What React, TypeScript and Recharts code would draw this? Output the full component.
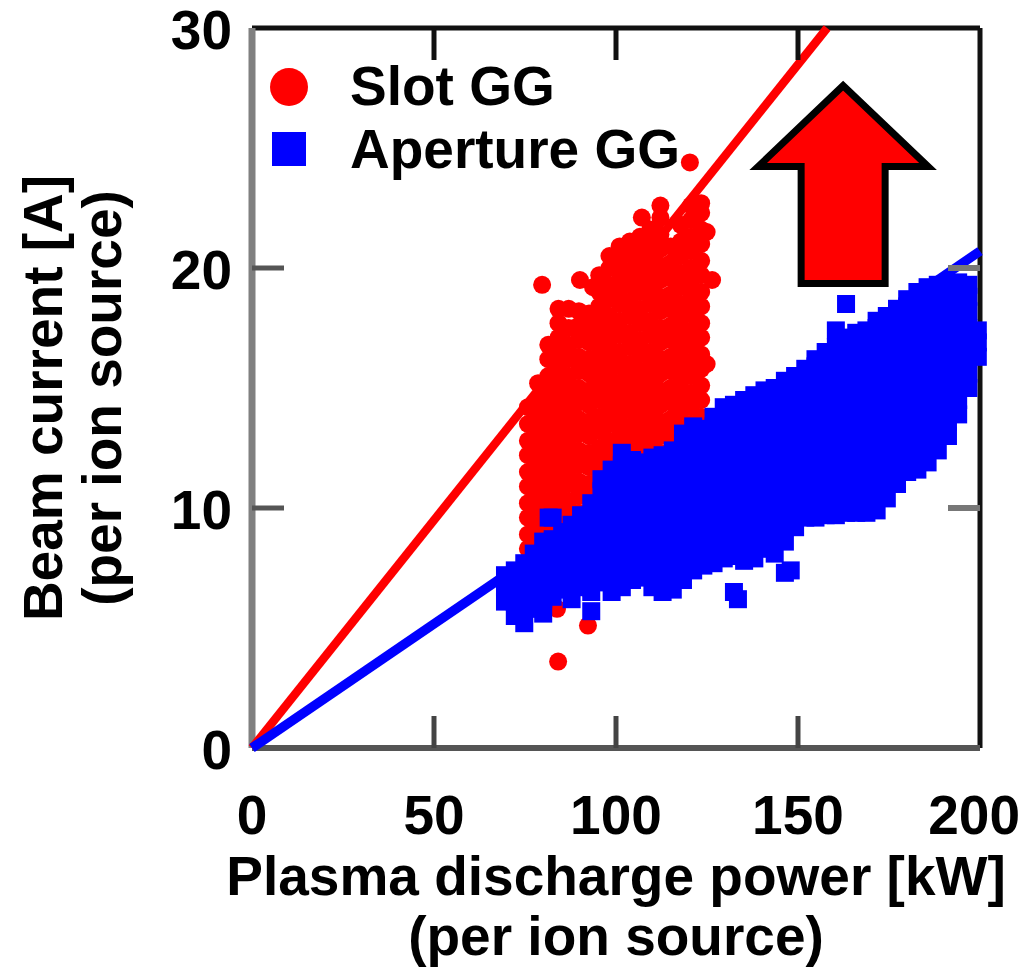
import React from 'react';
import { ScatterChart, Scatter, XAxis, YAxis, ReferenceLine } from 'recharts';

const W = 1022;
const H = 970;
const MARGIN = { top: 28, right: 42, bottom: 0, left: 0 };
const Y_AXIS_W = 252;
const X_AXIS_H = 222;
const PLOT_W = W - MARGIN.right - Y_AXIS_W;
const PLOT_H = H - MARGIN.top - X_AXIS_H;
const FONT = '"Liberation Sans", Arial, Helvetica, sans-serif';
const FS = 55;

const xTicks = [0, 50, 100, 150, 200];
const yTicks = [0, 10, 20, 30];
const xTitle = ['Plasma discharge power [kW]', '(per ion source)'];
const yTitle = ['Beam current [A]', '(per ion source)'];
const seriesNames = ['Slot GG', 'Aperture GG'];

// Slot GG: each row = [power kW, beam current A, beam current A, ...]
const slotCols: number[][] = [
  [75.8, 8.3, 8.9, 9.6, 10.2, 10.9, 11.5, 12.2, 12.8, 13.5, 14.2],
  [78.6, 8.1, 8.7, 9.3, 10.0, 10.6, 11.3, 11.9, 12.6, 13.2, 13.9, 14.5, 15.2],
  [81.4, 8.4, 9.0, 9.7, 10.3, 11.0, 11.6, 12.3, 12.9, 13.6, 14.2, 14.9, 15.5, 16.2, 16.8],
  [84.2, 8.6, 9.3, 9.9, 10.6, 11.2, 11.9, 12.5, 13.2, 13.8, 14.5, 15.1, 15.8, 16.4, 17.1, 17.7, 18.3],
  [87.0, 9.0, 9.7, 10.3, 11.0, 11.6, 12.3, 12.9, 13.6, 14.2, 14.9, 15.5, 16.2, 16.8, 17.5, 18.3],
  [89.8, 9.2, 9.8, 10.5, 11.1, 11.8, 12.4, 13.1, 13.7, 14.4, 15.0, 15.7, 16.3, 17.0, 17.6, 18.2],
  [92.6, 9.1, 9.7, 10.4, 11.0, 11.7, 12.3, 13.0, 13.6, 14.3, 14.9, 15.6, 16.2, 16.9, 17.5, 18.1],
  [95.4, 9.3, 9.9, 10.6, 11.2, 11.9, 12.5, 13.2, 13.8, 14.5, 15.1, 15.8, 16.4, 17.1, 17.7, 18.4, 19.0, 19.7],
  [98.2, 9.6, 10.2, 10.9, 11.5, 12.2, 12.8, 13.5, 14.1, 14.8, 15.4, 16.1, 16.7, 17.4, 18.0, 18.7, 19.3, 20.0, 20.5],
  [101.0, 10.0, 10.7, 11.3, 12.0, 12.6, 13.3, 13.9, 14.6, 15.2, 15.9, 16.5, 17.2, 17.8, 18.5, 19.1, 19.8, 20.4, 20.9],
  [103.8, 10.2, 10.8, 11.5, 12.1, 12.8, 13.4, 14.1, 14.7, 15.4, 16.0, 16.7, 17.3, 18.0, 18.6, 19.3, 19.9, 20.6, 21.1],
  [106.6, 10.5, 11.2, 11.8, 12.5, 13.1, 13.8, 14.4, 15.1, 15.7, 16.4, 17.0, 17.7, 18.3, 19.0, 19.6, 20.3, 20.9, 21.3],
  [109.4, 10.7, 11.3, 12.0, 12.6, 13.3, 13.9, 14.6, 15.2, 15.9, 16.5, 17.2, 17.8, 18.5, 19.1, 19.8, 20.4, 21.1, 21.6],
  [112.2, 11.0, 11.7, 12.3, 13.0, 13.6, 14.3, 14.9, 15.6, 16.2, 16.9, 17.5, 18.2, 18.8, 19.5, 20.1, 20.8, 21.4, 22.1, 22.6],
  [115.0, 11.1, 11.8, 12.4, 13.1, 13.7, 14.4, 15.0, 15.7, 16.3, 17.0, 17.6, 18.3, 18.9, 19.6, 20.2, 20.9],
  [117.8, 11.4, 12.0, 12.7, 13.3, 14.0, 14.6, 15.3, 15.9, 16.6, 17.2, 17.9, 18.5, 19.2, 19.8, 20.5, 21.1, 21.8],
  [120.6, 11.6, 12.2, 12.9, 13.5, 14.2, 14.8, 15.5, 16.1, 16.8, 17.4, 18.1, 18.7, 19.4, 20.0, 20.7, 21.3, 22.0, 22.6],
  [123.4, 11.9, 12.5, 13.2, 13.8, 14.5, 15.1, 15.8, 16.4, 17.1, 17.7, 18.4, 19.0, 19.7, 20.3, 21.0, 21.6, 22.3, 22.7],
];
const slotExtra: number[][] = [
  [120.3, 24.4], [107.1, 22.1], [79.7, 19.3], [90.1, 19.5], [93.7, 19.2], [99.2, 20.2],
  [126.4, 19.5], [124.9, 21.5], [124.9, 16.0], [83.8, 5.8], [92.3, 5.1], [84.1, 3.6],
  [92.9, 6.5], [103.0, 8.0], [112.0, 8.8], [83.2, 7.5], [77.0, 8.0],
];

// Aperture GG: each row = [power kW, beam current A, ...]
const apertureCols: number[][] = [
  [69.5, 6.1, 6.7, 7.2],
  [72.2, 5.5, 6.1, 6.8, 7.4],
  [74.8, 5.2, 5.8, 6.5, 7.1, 7.7],
  [77.4, 5.8, 6.4, 7.0, 7.6, 8.1],
  [80.0, 5.6, 6.2, 6.9, 7.5, 8.1, 8.6],
  [82.6, 6.3, 6.9, 7.5, 8.1, 8.7, 9.6],
  [85.2, 6.6, 7.2, 7.8, 8.4, 9.0],
  [87.8, 6.2, 6.9, 7.5, 8.1, 8.8, 9.3],
  [90.4, 6.7, 7.3, 7.9, 8.6, 9.2, 9.7],
  [93.2, 5.7, 6.5, 7.1, 7.7, 8.4, 9.0, 9.7, 10.2],
  [96.0, 6.9, 7.5, 8.1, 8.8, 9.4, 10.0, 10.7, 11.2],
  [98.8, 6.5, 7.2, 7.8, 8.4, 9.1, 9.7, 10.3, 11.0, 11.6],
  [101.6, 6.7, 7.3, 8.0, 8.6, 9.2, 9.9, 10.5, 11.1, 11.8, 12.3],
  [104.4, 7.0, 7.6, 8.3, 8.9, 9.5, 10.2, 10.8, 11.4, 12.0],
  [107.2, 7.1, 7.7, 8.4, 9.0, 9.6, 10.3, 10.9, 11.5, 11.9],
  [110.0, 6.7, 7.3, 8.0, 8.6, 9.2, 9.9, 10.5, 11.1, 11.7, 12.1],
  [112.8, 6.5, 7.1, 7.8, 8.4, 9.0, 9.7, 10.3, 10.9, 11.6, 12.2],
  [115.6, 6.6, 7.3, 7.9, 8.5, 9.2, 9.8, 10.4, 11.1, 11.7, 12.4],
  [118.4, 7.0, 7.6, 8.3, 8.9, 9.5, 10.2, 10.8, 11.4, 12.1, 12.7, 13.1],
  [121.2, 7.4, 8.0, 8.6, 9.3, 9.9, 10.5, 11.2, 11.8, 12.4, 13.0, 13.4],
  [124.0, 7.6, 8.2, 8.9, 9.5, 10.1, 10.8, 11.4, 12.0, 12.7, 13.3],
  [126.8, 7.7, 8.3, 8.9, 9.6, 10.2, 10.8, 11.5, 12.1, 12.7, 13.4, 13.8],
  [129.6, 7.9, 8.5, 9.2, 9.8, 10.4, 11.1, 11.7, 12.3, 13.0, 13.6, 14.2],
  [132.4, 6.5, 8.0, 8.6, 9.3, 9.9, 10.5, 11.2, 11.8, 12.4, 13.1, 13.7, 14.3],
  [135.2, 7.8, 8.4, 9.1, 9.7, 10.3, 11.0, 11.6, 12.2, 12.9, 13.5, 14.1, 14.5],
  [138.0, 7.9, 8.5, 9.2, 9.8, 10.4, 11.1, 11.7, 12.3, 13.0, 13.6, 14.2, 14.7],
  [140.8, 8.3, 8.9, 9.5, 10.2, 10.8, 11.4, 12.1, 12.7, 13.3, 14.0, 14.6, 14.9],
  [143.6, 8.1, 8.7, 9.3, 10.0, 10.6, 11.2, 11.9, 12.5, 13.1, 13.8, 14.4, 15.0],
  [146.4, 7.3, 8.6, 9.2, 9.9, 10.5, 11.1, 11.8, 12.4, 13.0, 13.7, 14.3, 14.9, 15.3],
  [149.2, 9.2, 9.8, 10.5, 11.1, 11.7, 12.4, 13.0, 13.6, 14.3, 14.9, 15.5],
  [152.0, 9.6, 10.2, 10.8, 11.5, 12.1, 12.7, 13.4, 14.0, 14.6, 15.3, 15.8],
  [154.8, 9.6, 10.2, 10.9, 11.5, 12.1, 12.8, 13.4, 14.0, 14.7, 15.3, 15.9, 16.2],
  [157.6, 9.7, 10.3, 11.0, 11.6, 12.2, 12.9, 13.5, 14.1, 14.8, 15.4, 16.0, 16.5],
  [160.4, 9.7, 10.4, 11.0, 11.6, 12.3, 12.9, 13.5, 14.2, 14.8, 15.4, 16.1, 16.7, 17.4],
  [163.2, 9.8, 10.4, 11.0, 11.7, 12.3, 12.9, 13.6, 14.2, 14.8, 15.5, 16.1, 16.7, 17.1, 18.5],
  [166.0, 9.8, 10.5, 11.1, 11.7, 12.4, 13.0, 13.6, 14.3, 14.9, 15.5, 16.2, 16.8, 17.3],
  [168.8, 9.8, 10.4, 11.1, 11.7, 12.3, 13.0, 13.6, 14.2, 14.9, 15.5, 16.1, 16.8, 17.4],
  [171.6, 9.9, 10.5, 11.2, 11.8, 12.4, 13.1, 13.7, 14.3, 15.0, 15.6, 16.2, 16.9, 17.5, 17.8],
  [174.4, 10.4, 11.0, 11.7, 12.3, 12.9, 13.6, 14.2, 14.8, 15.5, 16.1, 16.7, 17.4, 18.0],
  [177.2, 11.0, 11.6, 12.2, 12.9, 13.5, 14.1, 14.8, 15.4, 16.0, 16.7, 17.3, 17.9, 18.3],
  [180.0, 11.5, 12.1, 12.7, 13.4, 14.0, 14.6, 15.3, 15.9, 16.5, 17.2, 17.8, 18.4, 18.7],
  [182.8, 11.6, 12.2, 12.9, 13.5, 14.1, 14.8, 15.4, 16.0, 16.7, 17.3, 17.9, 18.6, 19.0],
  [185.6, 11.9, 12.5, 13.1, 13.8, 14.4, 15.0, 15.7, 16.3, 16.9, 17.6, 18.2, 18.8, 19.2],
  [188.4, 12.4, 13.0, 13.7, 14.3, 14.9, 15.6, 16.2, 16.8, 17.5, 18.1, 18.7, 19.3],
  [191.2, 13.0, 13.6, 14.3, 14.9, 15.5, 16.2, 16.8, 17.4, 18.1, 18.7, 19.3],
  [194.0, 13.9, 14.5, 15.1, 15.8, 16.4, 17.0, 17.7, 18.3, 18.9, 19.4],
  [196.8, 15.0, 15.6, 16.3, 16.9, 17.5, 18.2, 18.8, 19.3],
  [199.4, 16.3, 16.9, 17.4],
];
const apertureExtra: number[][] = [
  [133.5, 6.2], [148.0, 7.4], [81.5, 9.6], [120.5, 7.5],
];

// Linear guide lines (through origin)
const slotFit = [{ x: 0, y: 0 }, { x: 158, y: 30 }];
const apertureFit = [{ x: 0, y: 0 }, { x: 200, y: 20.7 }];
// Up-arrow annotation anchor (tip)
const arrowAnchor = [{ x: 162.4, y: 27.6 }];

const toPoints = (cols: number[][], extra: number[][]) =>
  cols
    .flatMap(([x, ...ys]) => ys.map((y) => ({ x, y })))
    .concat(extra.map(([x, y]) => ({ x, y })));

const slotData = toPoints(slotCols, slotExtra);
const apertureData = toPoints(apertureCols, apertureExtra);

const RedDot = (p: any) => <circle cx={p.cx} cy={p.cy} r={9} fill="#ff0000" />;
const BlueSquare = (p: any) => (
  <rect x={p.cx - 9} y={p.cy - 9} width={18} height={18} fill="#0000ff" />
);
const NoMark = () => <g />;
const Arrow = (p: any) => {
  const pts = [
    [0, 0], [-85, 81], [-42, 81], [-42, 198], [42, 198], [42, 81], [85, 81],
  ]
    .map(([dx, dy]) => `${p.cx + dx},${p.cy + dy}`)
    .join(' ');
  return <polygon points={pts} fill="#ff0000" stroke="#000" strokeWidth={7} strokeLinejoin="miter" />;
};

const textStyle = { fontFamily: FONT, fontSize: FS, fontWeight: 700, fill: '#000' } as const;

const XTick = (p: any) => {
  const { x, y, payload } = p;
  const v = payload.value;
  const inner = v !== xTicks[0] && v !== xTicks[xTicks.length - 1];
  const last = v === xTicks[xTicks.length - 1];
  return (
    <g>
      {inner && <line x1={x} x2={x} y1={y} y2={y - 32} stroke="#444" strokeWidth={5} />}
      {inner && <line x1={x} x2={x} y1={y - PLOT_H} y2={y - PLOT_H + 32} stroke="#111" strokeWidth={5} />}
      <text x={last ? W - 2 : x} y={y + 86} textAnchor={last ? 'end' : 'middle'} {...textStyle}>{v}</text>
    </g>
  );
};

const YTick = (p: any) => {
  const { x, y, payload } = p;
  const v = payload.value;
  const inner = v !== yTicks[0] && v !== yTicks[yTicks.length - 1];
  return (
    <g>
      {inner && <line x1={x} x2={x + 32} y1={y} y2={y} stroke="#555" strokeWidth={5} />}
      {inner && <line x1={x + PLOT_W} x2={x + PLOT_W - 32} y1={y} y2={y} stroke="#777" strokeWidth={6} />}
      <text x={x - 20} y={y + 21} textAnchor="end" {...textStyle}>{v}</text>
    </g>
  );
};

const XTitle = (props: any) => {
  const vb = props.viewBox || { x: Y_AXIS_W, y: MARGIN.top + PLOT_H, width: PLOT_W, height: X_AXIS_H };
  const cx = vb.x + vb.width / 2;
  return (
    <g>
      <text x={cx} y={vb.y + 147} textAnchor="middle" {...textStyle}>{xTitle[0]}</text>
      <text x={cx} y={vb.y + 207} textAnchor="middle" {...textStyle}>{xTitle[1]}</text>
    </g>
  );
};

const YTitle = (props: any) => {
  const vb = props.viewBox || { x: 0, y: MARGIN.top, width: Y_AXIS_W, height: PLOT_H };
  const cy = vb.y + vb.height / 2 + 10;
  const x1 = vb.x + 62;
  const x2 = vb.x + 121;
  return (
    <g>
      <text x={x1} y={cy} transform={`rotate(-90 ${x1} ${cy})`} textAnchor="middle" {...textStyle}>{yTitle[0]}</text>
      <text x={x2} y={cy} transform={`rotate(-90 ${x2} ${cy})`} textAnchor="middle" {...textStyle}>{yTitle[1]}</text>
    </g>
  );
};

const LegendOverlay = () => (
  <svg width={W} height={200} style={{ position: 'absolute', left: 0, top: 0, pointerEvents: 'none' }}>
    <circle cx={289} cy={87} r={19} fill="#ff0000" />
    <text x={350} y={105} {...textStyle}>{seriesNames[0]}</text>
    <rect x={272} y={132} width={34} height={34} fill="#0000ff" />
    <text x={350} y={168} {...textStyle}>{seriesNames[1]}</text>
  </svg>
);

export default function App() {
  return (
    <div style={{ position: 'absolute', left: 0, top: 0, width: W, height: H, background: '#fff' }}>
      <ScatterChart width={W} height={H} margin={MARGIN}>
        <XAxis
          type="number"
          dataKey="x"
          domain={[0, 200]}
          ticks={xTicks}
          interval={0}
          height={X_AXIS_H}
          tickSize={0}
          tickMargin={0}
          tickLine={false}
          axisLine={{ stroke: '#555', strokeWidth: 6 }}
          tick={(p: any) => <XTick {...p} />}
          label={{ content: (p: any) => <XTitle {...p} /> }}
        />
        <YAxis
          type="number"
          dataKey="y"
          domain={[0, 30]}
          ticks={yTicks}
          interval={0}
          width={Y_AXIS_W}
          tickSize={0}
          tickMargin={0}
          tickLine={false}
          axisLine={{ stroke: '#808080', strokeWidth: 7 }}
          tick={(p: any) => <YTick {...p} />}
          label={{ content: (p: any) => <YTitle {...p} /> }}
        />
        <ReferenceLine y={30} stroke="#111" strokeWidth={5} />
        <ReferenceLine x={200} stroke="#111" strokeWidth={5} />
        <Scatter name={seriesNames[0]} data={slotData} fill="#ff0000" shape={RedDot} isAnimationActive={false} />
        <Scatter name={seriesNames[1]} data={apertureData} fill="#0000ff" shape={BlueSquare} isAnimationActive={false} />
        <Scatter
          name="Slot GG fit"
          data={slotFit}
          line={{ stroke: '#ff0000', strokeWidth: 8.5 }}
          shape={NoMark}
          legendType="none"
          isAnimationActive={false}
        />
        <Scatter
          name="Aperture GG fit"
          data={apertureFit}
          line={{ stroke: '#0000ff', strokeWidth: 9.5 }}
          shape={NoMark}
          legendType="none"
          isAnimationActive={false}
        />
        <Scatter name="arrow" data={arrowAnchor} shape={Arrow} legendType="none" isAnimationActive={false} />
      </ScatterChart>
      <LegendOverlay />
    </div>
  );
}
